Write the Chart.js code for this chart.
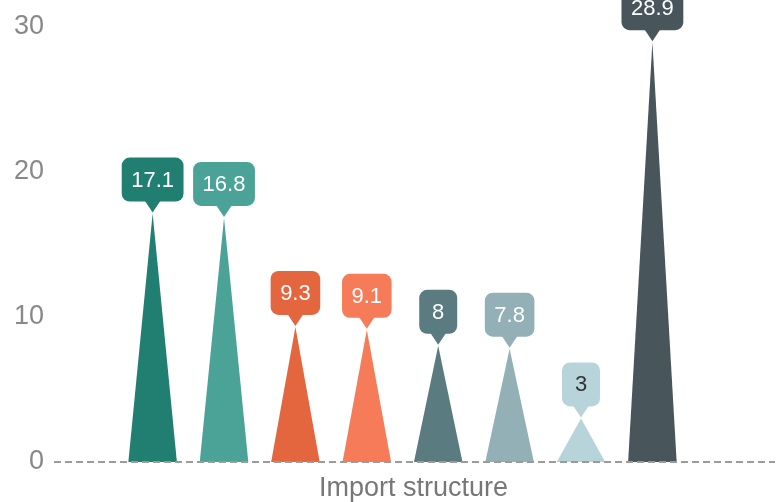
<!DOCTYPE html>
<html>
<head>
<meta charset="utf-8">
<script src="https://cdn.jsdelivr.net/npm/chart.js@4.4.0/dist/chart.umd.min.js"></script>
<style>
  html, body { margin: 0; padding: 0; background: #fff; }
  #wrap { width: 783px; height: 502px; position: relative; }
</style>
</head>
<body>
<div id="wrap"><canvas id="spikeChart"></canvas></div>
<script>
// data
const categories = ['Import structure'];
const seriesNames = ['Series 1', 'Series 2', 'Series 3', 'Series 4', 'Series 5', 'Series 6', 'Series 7', 'Series 8'];
const seriesValues = [17.1, 16.8, 9.3, 9.1, 8, 7.8, 3, 28.9];
const yTicks = [0, 10, 20, 30];

// look
const seriesColors = ['#217f71', '#4aa396', '#e4663f', '#f67c59', '#5a7b80', '#92b0b5', '#b6d4da', '#48555b'];
const labelTextColors = ['#fff', '#fff', '#fff', '#fff', '#fff', '#fff', '#333', '#fff'];
const FONT = '"Liberation Sans", Arial, sans-serif';

// draws each bar as a spike with a callout label on its tip
const spikePlugin = {
    id: 'spikes',
    afterDatasetsDraw(chart) {
        const ctx = chart.ctx;
        const area = chart.chartArea;
        const y0 = chart.scales.y.getPixelForValue(0);

        chart.data.datasets.forEach((ds, i) => {
            const meta = chart.getDatasetMeta(i);
            if (meta.hidden) return;
            const bar = meta.data[0];
            const {x, y, base, width} = bar.getProps(['x', 'y', 'base', 'width'], true);
            ctx.save();
            ctx.fillStyle = seriesColors[i];
            ctx.beginPath();
            ctx.moveTo(x - width / 2, base);
            ctx.lineTo(x, y);
            ctx.lineTo(x + width / 2, base);
            ctx.closePath();
            ctx.fill();
            ctx.restore();
        });

        // dashed zero line
        ctx.save();
        ctx.strokeStyle = '#9b9b9b';
        ctx.lineWidth = 2;
        ctx.setLineDash([7, 4]);
        ctx.beginPath();
        ctx.moveTo(area.left, y0);
        ctx.lineTo(chart.width - 8, y0);
        ctx.stroke();
        ctx.restore();

        chart.data.datasets.forEach((ds, i) => {
            const bar = chart.getDatasetMeta(i).data[0];
            const {x, y} = bar.getProps(['x', 'y'], true);
            const text = String(ds.data[0]);
            ctx.save();
            ctx.font = '22px ' + FONT;
            const tw = ctx.measureText(text).width;
            const bw = Math.max(tw + 19, 38), bh = 44, ph = 11, pw = 16;
            const bottom = y - 1 - ph;
            const top = bottom - bh;
            ctx.fillStyle = seriesColors[i];
            ctx.beginPath();
            ctx.roundRect(x - bw / 2, top, bw, bh, 8);
            ctx.fill();
            ctx.beginPath();
            ctx.moveTo(x - pw / 2, bottom - 1);
            ctx.lineTo(x, y - 1);
            ctx.lineTo(x + pw / 2, bottom - 1);
            ctx.closePath();
            ctx.fill();
            ctx.fillStyle = labelTextColors[i];
            ctx.textAlign = 'center';
            ctx.textBaseline = 'middle';
            ctx.fillText(text, x, top + bh / 2 + 1);
            ctx.restore();
        });
    }
};

const ctx = document.getElementById('spikeChart');
new Chart(ctx, {
    type: 'bar',
    data: {
        labels: categories,
        datasets: seriesNames.map((name, i) => ({
            label: name,
            data: [seriesValues[i]],
            backgroundColor: 'rgba(0,0,0,0)',
            categoryPercentage: 0.8195,
            barPercentage: 0.68
        }))
    },
    options: {
        responsive: true,
        maintainAspectRatio: false,
        animation: false,
        layout: { padding: { top: 6, right: 32, left: 4, bottom: -13 } },
        plugins: {
            legend: { display: false },
            tooltip: { enabled: false }
        },
        scales: {
            x: {
                grid: { display: false, drawTicks: false },
                border: { display: false },
                ticks: {
                    color: '#777',
                    font: { size: 27, family: FONT, lineHeight: 1 },
                    padding: 13,
                    labelOffset: 11
                }
            },
            y: {
                min: 0,
                max: 30,
                afterBuildTicks: axis => { axis.ticks = yTicks.map(v => ({ value: v })); },
                grid: { display: false, drawTicks: false },
                border: { display: false },
                ticks: {
                    color: '#888',
                    font: { size: 27, family: FONT },
                    padding: 10
                }
            }
        }
    },
    plugins: [spikePlugin]
});
</script>
</body>
</html>
